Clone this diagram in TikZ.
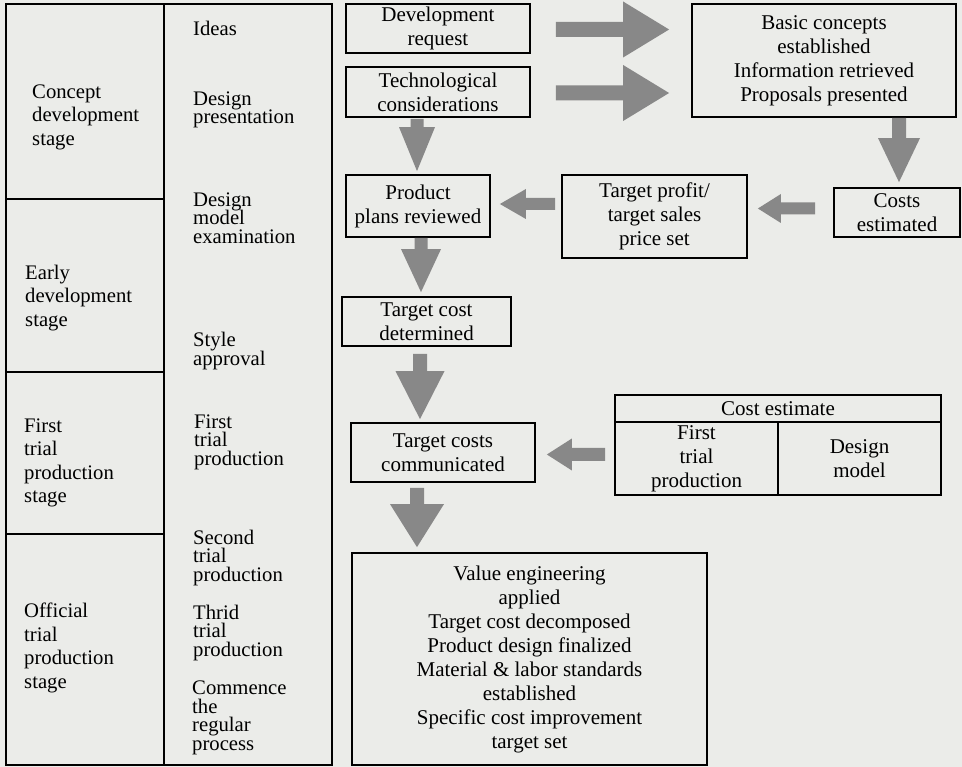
\documentclass[tikz,border=0pt]{standalone}
\usepackage{fontspec}
\setmainfont{Liberation Serif}
\usetikzlibrary{calc}
\definecolor{paper}{HTML}{EBECE9}
\definecolor{arrowgray}{HTML}{888888}

% Block arrow between two named points:
% #1 from, #2 to, #3 half shaft width, #4 half head width, #5 head length
\newcommand\blockarrow[5]{%
  \path ($(#2)!#5!(#1)$) coordinate (ahb);
  \fill[arrowgray]
    ($(#1)!#3!90:(#2)$) -- ($(ahb)!#3!90:(#2)$) -- ($(ahb)!#4!90:(#2)$) --
    (#2) --
    ($(ahb)!#4!-90:(#2)$) -- ($(ahb)!#3!-90:(#2)$) -- ($(#1)!#3!-90:(#2)$) -- cycle;
}
\newcommand\tightlines{\lineskiplimit=-8pt\relax}

\tikzset{
  rule/.style={line width=2pt},
  cell/.style={draw, rule, inner sep=0pt, anchor=north west},
  stagetext/.style={anchor=west, align=left, inner sep=0pt,
    font={\fontsize{20.7}{23.5}\selectfont}},
  steptext/.style={anchor=west, align=left, inner sep=0pt,
    font={\fontsize{20.7}{18.5}\selectfont\tightlines}},
  flowbox/.style={draw, line width=1.8pt, align=center, inner sep=0pt,
    font={\fontsize{21}{24}\selectfont\tightlines}},
}

\begin{document}
\begin{tikzpicture}[x=1pt, y=-1pt]
  \fill[paper] (0,0) rectangle (962,767);
  \useasboundingbox (0,0) rectangle (962,767);

  % ---- stage / step table ----
  \node[cell, minimum width=158pt, minimum height=195pt] (concept) at (5,3) {};
  \node[cell, minimum width=158pt, minimum height=173pt] (early) at (5,198) {};
  \node[cell, minimum width=158pt, minimum height=162pt] (first) at (5,371) {};
  \node[cell, minimum width=158pt, minimum height=231pt] (official) at (5,533) {};
  \node[cell, minimum width=168pt, minimum height=761pt] (steps) at (163,3) {};

  \node[stagetext] (tconcept) at (32,117) {Concept\\development\\stage};
  \node[stagetext] (tearly) at (25,298) {Early\\development\\stage};
  \node[stagetext] (tfirst) at (24,463) {First\\trial\\production\\stage};
  \node[stagetext] (tofficial) at (24,648) {Official\\trial\\production\\stage};

  \node[steptext] (s1) at (193,28) {Ideas};
  \node[steptext] (s2) at (193,110) {Design\\presentation};
  \node[steptext] (s3) at (193,218) {Design\\model\\examination};
  \node[steptext] (s4) at (193,351) {Style\\approval};
  \node[steptext] (s5) at (194,442) {First\\trial\\production};
  \node[steptext] (s6) at (193,558) {Second\\trial\\production};
  \node[steptext] (s7) at (193,633) {Thrid\\trial\\production};
  \node[steptext] (s8) at (192,718) {Commence\\the\\regular\\process};

  % ---- flow boxes ----
  \node[flowbox, minimum width=184pt, minimum height=49pt] (dev) at (438,28.5)
    {Development\\request};
  \node[flowbox, minimum width=184pt, minimum height=50pt] (tech) at (438,92)
    {Technological\\considerations};
  \node[flowbox, minimum width=264pt, minimum height=113pt] (basic) at (824,60.5)
    {Basic concepts\\established\\Information retrieved\\Proposals presented};
  \node[flowbox, minimum width=144pt, minimum height=62pt] (product) at (418,206)
    {Product\\plans reviewed};
  \node[flowbox, minimum width=185pt, minimum height=83pt] (tprofit) at (654.5,216.5)
    {Target profit/\\target sales\\price set};
  \node[flowbox, minimum width=126pt, minimum height=49pt] (costs) at (897,212.5)
    {Costs\\estimated};
  \node[flowbox, minimum width=169pt, minimum height=49pt] (tcost) at (426.5,321.5)
    {Target cost\\determined};
  \node[flowbox, minimum width=184pt, minimum height=59pt] (comm) at (443,452.5)
    {Target costs\\communicated};
  \node[flowbox, minimum width=326pt, minimum height=27pt] (estimate) at (778,408.5)
    {Cost estimate};
  \node[flowbox, minimum width=163pt, minimum height=73pt] (firsttrial) at (696.5,458.5)
    {First\\trial\\production};
  \node[flowbox, minimum width=163pt, minimum height=73pt] (designmodel) at (859.5,458.5)
    {Design\\model};
  \node[flowbox, minimum width=355pt, minimum height=212pt] (big) at (529.5,659)
    {Value engineering\\applied\\Target cost decomposed\\Product design finalized\\
     Material \& labor standards\\established\\Specific cost improvement\\target set};

  % ---- arrow end points ----
  \coordinate (r1s) at ($(dev.east)+(25,1)$);
  \coordinate (r1e) at ($(basic.west|-dev.east)+(-22,1)$);
  \coordinate (r2s) at ($(tech.east)+(25,1)$);
  \coordinate (r2e) at ($(basic.west|-tech.east)+(-22,1)$);
  \coordinate (d1s) at ($(product.north|-tech.south)+(-1,1)$);
  \coordinate (d1e) at ($(product.north)+(-1,-3)$);
  \coordinate (d2s) at ($(costs.north|-basic.south)+(2,0)$);
  \coordinate (d2e) at ($(costs.north)+(2,-5)$);
  \coordinate (d3s) at ($(tcost.north|-product.south)+(-5.5,0)$);
  \coordinate (d3e) at ($(tcost.north)+(-5.5,-4)$);
  \coordinate (d4s) at ($(tcost.south)+(-6.5,7)$);
  \coordinate (d4e) at ($(d4s|-comm.north)+(0,-3)$);
  \coordinate (d5s) at ($(comm.south)+(-26,5)$);
  \coordinate (d5e) at ($(d5s|-big.north)+(0,-5)$);
  \coordinate (l1s) at ($(tprofit.west|-product.east)+(-6,-2)$);
  \coordinate (l1e) at ($(product.east)+(9,-2)$);
  \coordinate (l2s) at ($(costs.west)+(-18,-4)$);
  \coordinate (l2e) at ($(tprofit.east|-l2s)+(10,0)$);
  \coordinate (l3s) at ($(firsttrial.west|-comm.east)+(-9,2)$);
  \coordinate (l3e) at ($(comm.east)+(11,2)$);

  % ---- block arrows ----
  \blockarrow{r1s}{r1e}{7.5pt}{28pt}{46pt}
  \blockarrow{r2s}{r2e}{7.5pt}{28pt}{46pt}
  \blockarrow{d1s}{d1e}{6.5pt}{18pt}{44pt}
  \blockarrow{d2s}{d2e}{7pt}{21pt}{44pt}
  \blockarrow{d3s}{d3e}{6.5pt}{20pt}{43pt}
  \blockarrow{d4s}{d4e}{7pt}{24.5pt}{48pt}
  \blockarrow{d5s}{d5e}{7pt}{27pt}{43pt}
  \blockarrow{l1s}{l1e}{6pt}{15pt}{26pt}
  \blockarrow{l2s}{l2e}{6pt}{14.5pt}{23pt}
  \blockarrow{l3s}{l3e}{6.5pt}{16pt}{25pt}
\end{tikzpicture}
\end{document}
